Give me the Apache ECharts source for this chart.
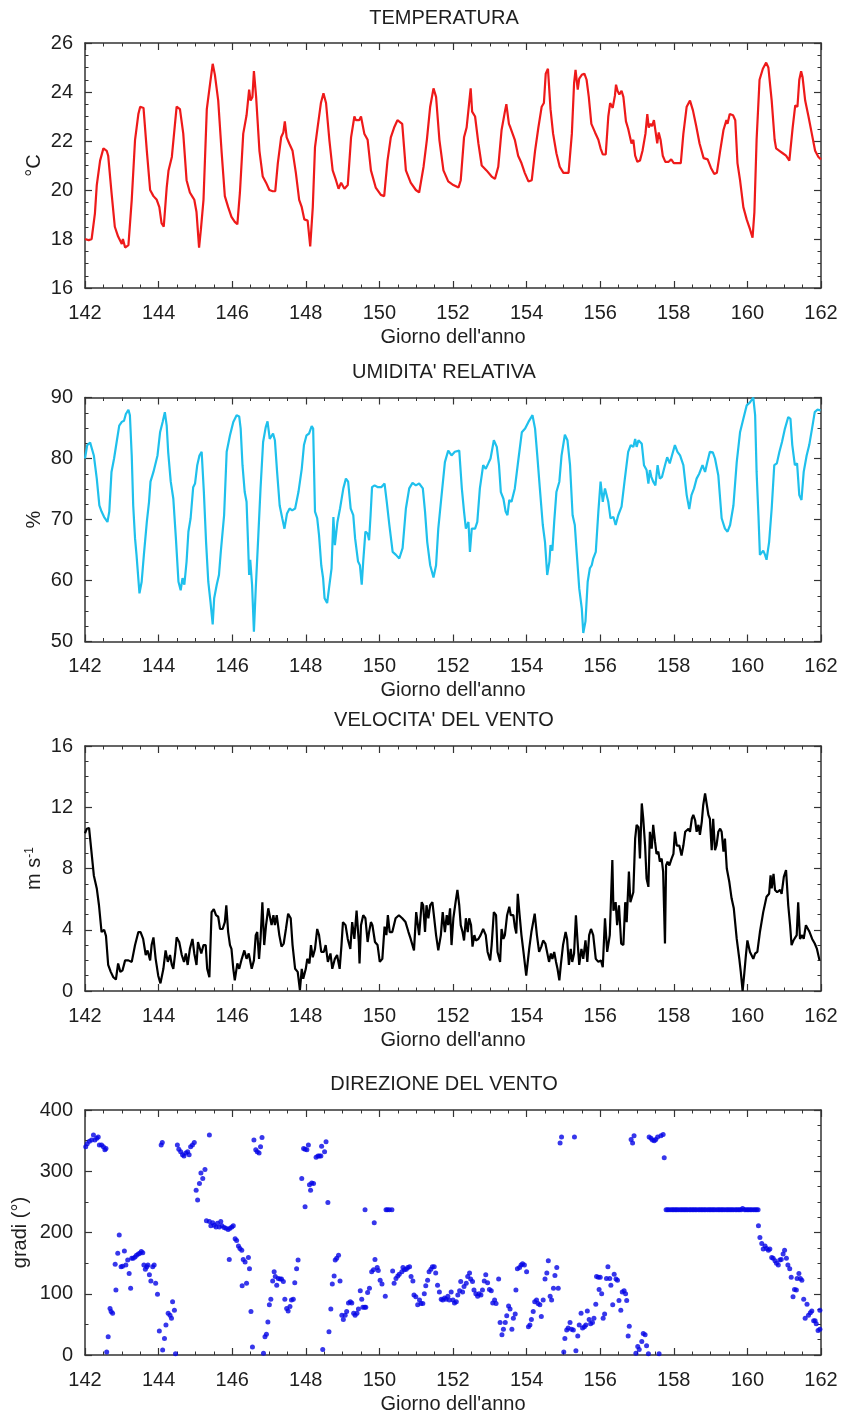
<!DOCTYPE html>
<html>
<head>
<meta charset="utf-8">
<script src="https://cdn.jsdelivr.net/npm/echarts@6/dist/echarts.min.js"></script>
<style>
  html, body { margin: 0; padding: 0; background: #fff; }
  #chart { width: 841px; height: 1414px; }
</style>
</head>
<body>
<div id="chart"></div>
<script>
// Day-of-year axis shared by all four panels
const dayTicks = [142, 162, 2];
const xAxisName = "Giorno dell'anno";

// Panel titles and y-axis names
const titles = ["TEMPERATURA", "UMIDITA' RELATIVA", "VELOCITA' DEL VENTO", "DIREZIONE DEL VENTO"];
const yNames = ["°C", "%", "m s{sup|-1}", "gradi (°)"];
const yRanges = [[16, 26, 2], [50, 90, 10], [0, 16, 4], [0, 400, 100]];

// Air temperature (°C) vs day of year
const temperatura = [
  [142.00,18.0],[142.10,17.95],[142.18,18.0],[142.27,19.05],[142.32,20.2],[142.41,21.2],[142.50,21.7],[142.59,21.6],
  [142.63,21.4],[142.72,19.9],[142.81,18.5],[142.90,18.1],[143.00,17.8],[143.03,18.0],[143.09,17.65],[143.18,17.75],
  [143.27,19.6],[143.36,22.05],[143.45,23.1],[143.50,23.4],[143.59,23.35],[143.68,21.6],[143.77,20.0],[143.86,19.75],
  [143.95,19.6],[144.02,19.3],[144.08,18.65],[144.14,18.5],[144.22,20.1],[144.27,20.8],[144.36,21.35],[144.40,21.4],
  [144.49,23.4],[144.58,23.3],[144.67,22.3],[144.76,20.4],[144.85,19.9],[144.93,19.7],[144.97,19.6],[145.03,19.1],
  [145.10,17.65],[145.15,18.4],[145.22,19.6],[145.31,23.3],[145.40,24.35],[145.47,25.15],[145.53,24.7],[145.62,23.65],
  [145.71,21.6],[145.80,19.75],[145.89,19.3],[145.98,18.9],[146.07,18.7],[146.14,18.6],[146.21,19.9],[146.30,22.3],
  [146.39,23.05],[146.46,24.1],[146.50,23.65],[146.55,23.8],[146.59,24.85],[146.65,23.8],[146.74,21.6],[146.83,20.55],
  [146.92,20.3],[147.01,20.0],[147.10,19.95],[147.17,19.95],[147.24,21.1],[147.33,22.15],[147.39,22.35],[147.43,22.8],
  [147.48,22.15],[147.55,21.9],[147.64,21.6],[147.73,20.7],[147.82,19.6],[147.89,19.3],[147.96,18.8],[148.05,18.75],
  [148.12,17.7],[148.19,19.3],[148.25,21.75],[148.32,22.55],[148.41,23.55],[148.48,23.95],[148.55,23.55],[148.64,22.05],
  [148.73,20.8],[148.82,20.4],[148.89,20.05],[148.96,20.3],[149.05,20.05],[149.14,20.2],[149.23,22.15],[149.32,23.0],
  [149.36,22.85],[149.45,22.85],[149.50,23.0],[149.59,22.3],[149.68,22.05],[149.77,20.8],[149.90,20.1],[150.04,19.8],
  [150.13,19.75],[150.22,21.2],[150.31,22.15],[150.40,22.55],[150.49,22.85],[150.53,22.9],[150.62,22.7],[150.72,20.8],
  [150.85,20.3],[150.99,20.0],[151.08,19.9],[151.20,20.95],[151.29,22.05],[151.38,23.4],[151.47,24.15],[151.54,23.8],
  [151.63,22.05],[151.74,20.8],[151.87,20.35],[152.01,20.2],[152.15,20.1],[152.21,20.4],[152.30,22.15],[152.37,22.55],
  [152.42,22.6],[152.48,24.15],[152.52,23.2],[152.60,23.0],[152.69,21.9],[152.78,21.0],[152.91,20.8],[153.05,20.55],
  [153.14,20.45],[153.23,20.95],[153.32,22.45],[153.41,23.2],[153.45,23.5],[153.52,22.7],[153.56,22.55],[153.61,22.6],
  [153.68,22.05],[153.77,21.4],[153.86,21.1],[153.95,20.7],[154.05,20.35],[154.14,20.4],[154.23,21.6],[154.32,22.55],
  [154.41,23.4],[154.47,23.55],[154.52,24.75],[154.58,24.95],[154.65,23.3],[154.72,22.3],[154.81,21.5],[154.90,20.95],
  [155.00,20.7],[155.14,20.7],[155.23,22.3],[155.29,24.35],[155.33,24.9],[155.39,24.1],[155.43,24.55],[155.50,24.7],
  [155.57,24.75],[155.63,24.5],[155.69,23.8],[155.76,22.7],[155.86,22.35],[155.95,22.05],[156.01,21.7],[156.07,21.45],
  [156.15,21.45],[156.22,23.0],[156.27,23.55],[156.34,23.35],[156.40,23.85],[156.43,24.3],[156.47,24.05],[156.52,23.9],
  [156.58,24.05],[156.63,23.8],[156.70,22.8],[156.76,22.5],[156.85,21.9],[156.90,22.05],[156.95,21.4],[157.01,21.15],
  [157.08,21.2],[157.15,21.6],[157.23,22.3],[157.28,23.1],[157.32,22.55],[157.37,22.7],[157.41,22.6],[157.46,22.85],
  [157.50,22.9],[157.55,21.9],[157.59,22.35],[157.64,22.05],[157.70,21.4],[157.77,21.15],[157.86,21.15],[157.93,21.25],
  [158.00,21.1],[158.12,21.1],[158.19,21.1],[158.26,22.3],[158.35,23.4],[158.44,23.65],[158.52,23.25],[158.61,22.6],
  [158.70,21.9],[158.81,21.3],[158.92,21.25],[159.01,20.9],[159.10,20.65],[159.17,20.7],[159.26,21.6],[159.35,22.45],
  [159.43,22.85],[159.46,22.7],[159.52,23.1],[159.61,23.05],[159.67,22.85],[159.73,21.1],[159.80,20.4],[159.89,19.3],
  [159.98,18.8],[160.07,18.4],[160.14,18.05],[160.19,19.1],[160.25,22.05],[160.33,24.5],[160.42,24.95],[160.51,25.2],
  [160.57,25.0],[160.66,23.65],[160.74,22.05],[160.78,21.7],[160.87,21.6],[160.96,21.5],[161.05,21.4],[161.14,21.2],
  [161.23,22.55],[161.30,23.45],[161.36,23.4],[161.41,24.5],[161.46,24.85],[161.50,24.6],[161.57,23.65],[161.66,23.0],
  [161.75,22.3],[161.84,21.6],[161.93,21.35],[162.00,21.25]
];

// Relative humidity (%) vs day of year
const umidita = [
  [142.00,80.0],[142.06,82.2],[142.14,82.6],[142.19,82.8],[142.24,80.5],[142.32,76.7],[142.39,72.3],[142.45,71.3],
  [142.52,70.4],[142.57,70.2],[142.61,69.6],[142.66,71.3],[142.72,77.8],[142.79,80.0],[142.86,82.7],[142.93,85.4],
  [143.00,86.0],[143.06,86.2],[143.11,87.3],[143.18,88.0],[143.22,87.1],[143.27,80.5],[143.31,72.3],[143.36,66.9],
  [143.40,64.2],[143.48,57.9],[143.54,59.8],[143.60,64.2],[143.68,69.6],[143.74,72.9],[143.78,76.2],[143.86,77.8],
  [143.90,78.1],[143.97,80.5],[144.04,84.3],[144.11,86.0],[144.17,87.6],[144.22,85.4],[144.26,81.1],[144.33,76.2],
  [144.40,73.4],[144.47,66.9],[144.54,59.8],[144.60,58.4],[144.65,60.4],[144.70,59.3],[144.76,63.1],[144.81,68.0],
  [144.87,70.2],[144.94,75.3],[144.99,75.9],[145.05,78.9],[145.11,80.5],[145.17,81.1],[145.23,74.5],[145.29,66.3],
  [145.35,59.8],[145.41,56.5],[145.47,52.8],[145.51,57.1],[145.58,59.3],[145.64,60.9],[145.69,64.7],[145.73,64.4],
  [145.78,70.7],[145.85,81.1],[145.94,83.8],[146.03,86.0],[146.12,87.1],[146.19,86.9],[146.23,84.9],[146.28,78.9],
  [146.34,74.5],[146.39,72.9],[146.43,66.3],[146.46,60.9],[146.49,63.4],[146.54,59.3],[146.59,51.6],[146.64,58.7],
  [146.71,67.4],[146.77,75.1],[146.84,82.7],[146.91,85.1],[146.96,86.1],[147.02,83.2],[147.07,83.4],[147.11,84.1],
  [147.16,83.0],[147.22,77.8],[147.29,72.3],[147.36,70.2],[147.42,68.5],[147.49,71.0],[147.56,71.8],[147.63,71.5],
  [147.71,71.8],[147.80,74.5],[147.89,78.3],[147.95,82.2],[148.02,83.8],[148.09,84.1],[148.16,85.3],[148.20,84.9],
  [148.25,71.3],[148.31,70.2],[148.36,67.4],[148.42,62.5],[148.47,60.4],[148.51,57.1],[148.58,56.3],[148.63,58.7],
  [148.70,62.0],[148.75,70.4],[148.79,65.8],[148.86,69.6],[148.93,71.8],[149.02,75.1],[149.09,76.7],[149.15,76.2],
  [149.22,71.8],[149.29,70.7],[149.34,66.9],[149.42,63.1],[149.47,62.5],[149.52,59.3],[149.56,63.1],[149.62,68.0],
  [149.68,67.7],[149.72,66.6],[149.76,70.7],[149.80,75.3],[149.87,75.6],[149.96,75.3],[150.05,75.3],[150.14,75.9],
  [150.20,72.9],[150.27,69.1],[150.36,64.7],[150.45,64.2],[150.54,63.6],[150.63,65.3],[150.72,71.8],[150.81,75.1],
  [150.90,76.0],[150.99,75.6],[151.08,75.9],[151.18,75.1],[151.24,71.3],[151.30,66.3],[151.38,62.5],[151.47,60.5],
  [151.54,62.5],[151.60,68.5],[151.69,74.0],[151.78,79.4],[151.87,81.3],[151.96,80.5],[152.05,81.1],[152.17,81.3],
  [152.24,75.1],[152.30,71.3],[152.35,68.5],[152.42,69.6],[152.46,64.7],[152.51,68.5],[152.60,68.5],[152.66,69.6],
  [152.73,75.1],[152.82,78.9],[152.89,78.3],[152.96,79.2],[153.02,80.0],[153.11,83.0],[153.19,81.9],[153.25,78.9],
  [153.30,74.5],[153.37,73.4],[153.43,71.3],[153.48,70.7],[153.53,73.2],[153.59,72.9],[153.68,75.1],[153.78,80.0],
  [153.87,84.3],[153.96,84.9],[154.05,86.0],[154.16,87.1],[154.23,84.9],[154.29,80.5],[154.36,75.1],[154.44,69.1],
  [154.50,66.3],[154.56,60.9],[154.62,63.1],[154.65,65.8],[154.70,64.9],[154.75,69.6],[154.81,74.5],[154.89,76.2],
  [154.95,80.5],[155.04,83.9],[155.11,83.0],[155.18,78.9],[155.25,70.7],[155.31,69.1],[155.36,64.7],[155.43,58.7],
  [155.50,55.4],[155.54,51.4],[155.60,53.3],[155.66,59.8],[155.72,62.0],[155.77,62.5],[155.81,63.6],[155.88,64.7],
  [155.95,71.3],[156.01,76.2],[156.07,72.9],[156.13,75.1],[156.18,74.8],[156.22,72.9],[156.28,70.2],[156.36,70.4],
  [156.42,69.1],[156.49,70.7],[156.58,72.1],[156.67,76.7],[156.76,81.1],[156.83,82.2],[156.90,81.9],[156.95,83.2],
  [156.99,81.9],[157.04,83.0],[157.13,82.4],[157.19,78.9],[157.26,78.1],[157.31,75.9],[157.35,78.1],[157.39,77.0],
  [157.44,76.2],[157.50,75.6],[157.56,78.9],[157.62,76.7],[157.68,77.0],[157.76,78.9],[157.82,80.2],[157.89,79.2],
  [157.95,80.5],[158.03,82.2],[158.10,81.1],[158.17,80.5],[158.26,78.9],[158.35,74.0],[158.42,71.7],[158.48,74.0],
  [158.55,75.1],[158.62,76.7],[158.69,77.5],[158.78,78.9],[158.85,77.8],[158.91,79.4],[158.98,81.1],[159.06,81.0],
  [159.12,80.0],[159.21,77.2],[159.30,70.2],[159.39,68.5],[159.46,68.0],[159.53,69.1],[159.62,72.3],[159.71,79.4],
  [159.80,84.3],[159.89,86.5],[159.98,88.7],[160.07,89.2],[160.16,90.0],[160.21,87.1],[160.25,77.8],[160.30,70.7],
  [160.34,64.2],[160.39,64.4],[160.43,64.9],[160.48,64.2],[160.52,63.4],[160.59,66.3],[160.66,71.8],[160.73,78.9],
  [160.80,79.2],[160.87,81.1],[160.94,82.7],[161.02,84.9],[161.11,86.8],[161.17,86.5],[161.22,82.2],[161.29,78.9],
  [161.35,79.2],[161.41,74.0],[161.47,73.2],[161.53,77.8],[161.61,80.5],[161.68,82.2],[161.77,85.4],[161.83,87.6],
  [161.90,88.0],[161.99,87.9]
];

// Wind speed (m/s) vs day of year
const velocitaVento = [
  [142.00,10.3],[142.05,10.6],[142.11,10.65],[142.15,9.7],[142.20,9.7],[142.24,7.55],[142.32,6.7],[142.38,5.6],
  [142.45,3.85],[142.52,4.0],[142.57,3.6],[142.63,1.7],[142.70,1.25],[142.77,0.9],[142.84,0.75],[142.90,1.8],
  [142.96,1.25],[143.02,1.35],[143.09,2.0],[143.18,2.0],[143.27,1.9],[143.36,3.0],[143.45,3.85],[143.51,3.85],
  [143.58,3.4],[143.65,2.35],[143.70,2.65],[143.77,2.0],[143.81,3.0],[143.86,3.5],[143.92,2.1],[143.99,1.0],
  [144.05,0.5],[144.13,1.45],[144.19,2.65],[144.25,1.9],[144.31,2.35],[144.36,1.7],[144.40,1.45],[144.45,2.45],
  [144.49,3.5],[144.56,3.2],[144.63,2.35],[144.69,1.9],[144.74,2.45],[144.79,1.7],[144.85,2.75],[144.92,3.4],
  [144.97,2.45],[145.03,1.7],[145.07,3.2],[145.12,3.1],[145.16,2.45],[145.22,3.0],[145.28,3.0],[145.32,1.45],
  [145.38,0.9],[145.44,5.15],[145.50,5.35],[145.56,4.95],[145.62,4.85],[145.67,4.05],[145.74,4.05],[145.80,4.5],
  [145.84,5.6],[145.89,3.85],[145.94,3.0],[145.98,2.75],[146.03,1.45],[146.07,0.7],[146.14,1.8],[146.19,1.45],
  [146.26,2.1],[146.33,2.65],[146.39,2.1],[146.45,2.45],[146.53,1.45],[146.59,2.0],[146.64,3.65],[146.68,3.85],
  [146.73,2.1],[146.77,3.4],[146.82,5.8],[146.87,3.0],[146.92,4.3],[146.98,5.4],[147.03,5.5],[147.07,4.3],
  [147.12,4.95],[147.16,4.3],[147.21,4.95],[147.28,3.65],[147.34,2.9],[147.40,3.1],[147.46,4.05],[147.52,5.05],
  [147.59,4.75],[147.64,3.0],[147.71,1.45],[147.78,1.25],[147.84,0.05],[147.89,1.45],[147.93,0.8],[148.00,1.45],
  [148.04,2.1],[148.10,1.8],[148.14,3.0],[148.19,2.2],[148.25,2.75],[148.31,4.05],[148.36,3.65],[148.42,2.55],
  [148.49,2.55],[148.54,3.0],[148.60,1.9],[148.67,2.45],[148.72,1.45],[148.79,2.1],[148.85,2.35],[148.92,1.45],
  [148.97,3.0],[149.01,4.5],[149.08,4.3],[149.14,3.4],[149.21,2.75],[149.26,4.5],[149.32,3.4],[149.38,5.25],
  [149.44,3.2],[149.46,1.8],[149.50,4.3],[149.56,4.95],[149.62,4.75],[149.68,3.2],[149.72,3.85],[149.77,4.5],
  [149.81,4.3],[149.88,3.2],[149.95,3.0],[150.01,1.9],[150.08,2.1],[150.14,4.2],[150.19,3.65],[150.23,4.95],
  [150.28,3.85],[150.35,3.85],[150.44,4.75],[150.53,4.95],[150.62,4.75],[150.71,4.5],[150.79,3.85],[150.85,3.4],
  [150.90,3.4],[150.94,2.65],[151.00,5.15],[151.08,3.65],[151.15,5.8],[151.19,5.6],[151.24,3.85],[151.28,5.6],
  [151.33,4.75],[151.38,5.6],[151.44,5.8],[151.48,4.95],[151.54,3.65],[151.60,2.65],[151.67,3.65],[151.72,5.15],
  [151.78,3.85],[151.83,4.95],[151.87,4.3],[151.92,5.4],[151.96,3.0],[152.01,4.75],[152.07,5.8],[152.12,6.6],
  [152.17,5.6],[152.21,4.3],[152.26,3.85],[152.30,3.3],[152.35,4.75],[152.40,3.85],[152.44,4.75],[152.49,4.3],
  [152.53,2.9],[152.58,3.65],[152.62,3.3],[152.69,3.4],[152.75,3.65],[152.82,4.05],[152.89,3.65],[152.94,2.55],
  [153.01,2.0],[153.05,3.0],[153.11,5.15],[153.17,4.95],[153.21,2.55],[153.28,1.9],[153.32,4.05],[153.37,3.4],
  [153.41,3.65],[153.47,4.95],[153.53,5.5],[153.57,4.95],[153.64,4.95],[153.68,4.2],[153.72,3.75],[153.76,6.35],
  [153.81,4.95],[153.86,3.65],[153.92,2.45],[153.99,1.0],[154.07,2.75],[154.13,3.85],[154.22,5.05],[154.28,3.65],
  [154.34,2.55],[154.40,2.9],[154.45,3.3],[154.51,3.1],[154.56,3.1],[154.61,1.9],[154.66,2.45],[154.70,2.1],
  [154.75,2.55],[154.80,1.9],[154.84,1.45],[154.89,0.7],[154.93,1.7],[154.99,3.0],[155.06,3.85],[155.10,3.4],
  [155.15,1.7],[155.20,2.75],[155.24,1.9],[155.29,2.45],[155.34,4.95],[155.38,3.4],[155.43,1.7],[155.49,2.75],
  [155.54,2.1],[155.60,3.3],[155.65,1.9],[155.70,3.65],[155.75,4.05],[155.81,3.65],[155.88,2.1],[155.95,1.9],
  [156.02,2.0],[156.07,1.55],[156.13,4.75],[156.19,2.55],[156.26,3.65],[156.30,6.45],[156.33,8.55],[156.36,5.25],
  [156.42,5.8],[156.46,4.3],[156.51,5.6],[156.57,3.1],[156.63,3.0],[156.68,5.8],[156.72,4.5],[156.78,7.8],
  [156.82,5.8],[156.90,6.45],[156.95,9.95],[156.99,10.85],[157.04,10.7],[157.08,8.65],[157.13,12.25],[157.17,11.25],
  [157.22,9.5],[157.26,7.35],[157.31,6.8],[157.35,10.4],[157.40,9.3],[157.44,10.85],[157.49,9.75],[157.53,8.95],
  [157.58,9.1],[157.62,8.45],[157.67,8.65],[157.71,7.8],[157.76,3.1],[157.79,8.2],[157.83,8.45],[157.88,8.2],
  [157.94,8.65],[157.99,8.95],[158.03,10.4],[158.08,9.5],[158.15,9.5],[158.21,8.85],[158.26,9.5],[158.31,10.4],
  [158.35,10.3],[158.40,10.6],[158.44,10.4],[158.49,11.25],[158.53,11.5],[158.58,11.15],[158.62,10.4],[158.67,10.85],
  [158.71,10.2],[158.76,11.05],[158.80,12.15],[158.85,12.9],[158.89,12.8],[158.94,11.5],[158.98,11.25],[159.03,9.2],
  [159.07,11.25],[159.12,9.2],[159.16,9.5],[159.21,10.4],[159.26,10.6],[159.30,10.4],[159.35,9.1],[159.39,9.95],
  [159.44,8.0],[159.51,7.1],[159.57,6.05],[159.63,5.4],[159.71,3.4],[159.78,2.1],[159.82,1.25],[159.87,0.0],
  [159.91,1.0],[159.96,2.35],[160.00,3.3],[160.07,2.55],[160.12,2.65],[160.16,2.1],[160.21,2.45],[160.27,2.55],
  [160.34,3.85],[160.43,5.15],[160.52,6.15],[160.59,6.35],[160.63,7.55],[160.66,6.7],[160.71,7.65],[160.75,6.6],
  [160.81,6.45],[160.89,6.6],[160.93,6.35],[160.99,7.45],[161.05,7.9],[161.11,5.6],[161.16,4.3],[161.20,3.0],
  [161.25,3.3],[161.29,3.2],[161.34,3.65],[161.38,5.8],[161.43,3.4],[161.49,3.65],[161.53,3.4],[161.59,4.3],
  [161.63,4.2],[161.69,3.85],[161.76,3.4],[161.83,3.1],[161.89,2.75],[161.96,2.0]
];

// Wind direction (degrees) vs day of year
const direzioneVento = [
  [142.02,340],[142.06,345],[142.12,349],[142.18,351],[142.23,359],[142.27,351],[142.32,354],[142.36,356],[142.39,343],
  [142.45,343],[142.50,340],[142.54,335],[142.57,337],[142.59,5],[142.63,30],[142.68,76],[142.71,71],[142.75,68],
  [142.82,148],[142.84,106],[142.89,166],[142.93,196],[142.98,144],[143.02,145],[143.07,170],[143.11,147],[143.16,155],
  [143.20,133],[143.24,109],[143.27,158],[143.31,158],[143.36,160],[143.40,163],[143.45,165],[143.49,166],[143.53,169],
  [143.57,167],[143.60,147],[143.64,140],[143.68,144],[143.71,147],[143.75,131],[143.79,121],[143.84,144],[143.88,147],
  [143.92,117],[143.97,99],[144.02,39],[144.07,343],[144.10,347],[144.11,8],[144.16,27],[144.20,49],[144.26,68],
  [144.31,65],[144.35,60],[144.38,87],[144.43,73],[144.46,2],[144.51,343],[144.55,336],[144.60,332],[144.65,327],
  [144.69,325],[144.74,330],[144.79,332],[144.83,327],[144.87,340],[144.92,343],[144.97,347],[145.02,269],[145.06,253],
  [145.11,280],[145.15,297],[145.20,288],[145.26,303],[145.30,219],[145.38,359],[145.38,218],[145.42,211],[145.47,216],
  [145.51,212],[145.56,209],[145.60,215],[145.65,209],[145.69,218],[145.72,211],[145.78,208],[145.83,207],[145.89,205],
  [145.92,156],[145.94,207],[145.99,209],[146.03,211],[146.08,190],[146.12,187],[146.17,178],[146.21,174],[146.26,171],
  [146.27,113],[146.30,156],[146.35,152],[146.39,117],[146.44,159],[146.47,141],[146.51,71],[146.55,13],[146.59,351],
  [146.64,335],[146.68,332],[146.73,330],[146.77,340],[146.81,355],[146.85,3],[146.89,30],[146.93,34],[146.97,54],
  [147.01,82],[147.05,91],[147.10,121],[147.14,136],[147.17,128],[147.21,114],[147.25,125],[147.30,124],[147.34,124],
  [147.39,120],[147.43,91],[147.48,76],[147.52,72],[147.57,79],[147.61,90],[147.66,91],[147.70,118],[147.75,141],
  [147.79,155],[147.89,288],[147.94,337],[147.98,336],[147.98,242],[148.03,335],[148.07,343],[148.10,278],[148.13,269],
  [148.16,281],[148.21,280],[148.28,323],[148.33,325],[148.37,325],[148.41,325],[148.43,341],[148.46,9],[148.51,332],
  [148.55,348],[148.60,249],[148.63,38],[148.68,75],[148.72,116],[148.77,129],[148.80,155],[148.84,158],[148.89,163],
  [148.93,121],[148.98,65],[149.02,58],[149.07,65],[149.11,71],[149.16,85],[149.21,87],[149.25,85],[149.30,68],
  [149.34,65],[149.39,68],[149.43,75],[149.48,105],[149.52,91],[149.55,78],[149.60,78],[149.61,237],[149.63,78],
  [149.68,102],[149.73,109],[149.79,136],[149.84,139],[149.86,216],[149.88,156],[149.94,143],[149.97,138],[150.02,122],
  [150.07,116],[150.16,96],[150.18,237],[150.22,237],[150.27,237],[150.34,237],[150.36,137],[150.40,117],[150.45,125],
  [150.50,129],[150.54,132],[150.61,136],[150.64,143],[150.68,139],[150.73,140],[150.77,143],[150.82,144],[150.86,128],
  [150.91,121],[150.94,98],[150.99,95],[151.04,82],[151.09,90],[151.13,84],[151.18,84],[151.22,100],[151.26,113],
  [151.31,122],[151.35,136],[151.40,140],[151.44,144],[151.49,144],[151.53,134],[151.58,114],[151.63,103],[151.68,91],
  [151.72,90],[151.77,93],[151.81,91],[151.86,96],[151.90,90],[151.95,103],[152.00,90],[152.04,85],[152.09,87],
  [152.13,98],[152.18,105],[152.21,120],[152.26,103],[152.30,112],[152.36,117],[152.40,128],[152.45,134],[152.48,124],
  [152.53,120],[152.57,106],[152.62,100],[152.67,96],[152.71,100],[152.76,98],[152.80,106],[152.85,121],[152.89,131],
  [152.94,118],[152.99,107],[153.04,105],[153.08,85],[153.13,90],[153.17,84],[153.24,124],[153.28,53],[153.33,33],
  [153.37,42],[153.42,53],[153.46,64],[153.51,80],[153.55,75],[153.60,42],[153.64,60],[153.69,67],[153.71,106],
  [153.75,141],[153.81,143],[153.85,147],[153.89,149],[153.94,147],[154.00,136],[154.05,46],[154.09,49],[154.13,58],
  [154.18,71],[154.22,87],[154.27,90],[154.31,84],[154.36,82],[154.40,63],[154.45,90],[154.50,124],[154.55,134],
  [154.59,154],[154.64,96],[154.68,90],[154.73,109],[154.77,130],[154.82,143],[154.86,109],[154.91,346],[154.95,356],
  [155.01,5],[155.04,27],[155.09,41],[155.13,44],[155.18,53],[155.22,42],[155.27,41],[155.30,356],[155.34,7],
  [155.39,31],[155.43,49],[155.48,68],[155.52,44],[155.57,46],[155.61,49],[155.65,72],[155.70,58],[155.74,51],
  [155.79,53],[155.83,60],[155.88,83],[155.90,128],[155.95,127],[155.97,107],[156.00,127],[156.04,100],[156.08,60],
  [156.12,67],[156.17,125],[156.21,144],[156.26,125],[156.29,114],[156.34,82],[156.38,132],[156.43,124],[156.47,122],
  [156.51,89],[156.56,73],[156.60,103],[156.65,105],[156.69,100],[156.72,89],[156.76,31],[156.79,47],[156.84,352],
  [156.88,346],[156.92,358],[156.97,3],[157.02,14],[157.06,9],[157.13,22],[157.17,35],[157.22,33],[157.26,15],
  [157.31,2],[157.33,356],[157.38,354],[157.42,351],[157.47,350],[157.51,352],[157.56,356],[157.60,2],[157.65,358],
  [157.71,360],[157.74,322],
  [157.79,237],[157.83,237],[157.87,237],[157.92,237],[157.96,237],[158.00,237],[158.04,237],[158.08,237],[158.12,237],
  [158.17,237],[158.21,237],[158.25,237],[158.29,237],[158.33,237],[158.37,237],[158.42,237],[158.46,237],[158.50,237],
  [158.54,237],[158.58,237],[158.62,237],[158.67,237],[158.71,237],[158.75,237],[158.79,237],[158.83,237],[158.87,237],
  [158.92,237],[158.96,237],[159.00,237],[159.04,237],[159.08,237],[159.12,237],[159.17,237],[159.21,237],[159.25,237],
  [159.29,237],[159.33,237],[159.37,237],[159.42,237],[159.46,237],[159.50,237],[159.54,237],[159.58,237],[159.62,237],
  [159.67,237],[159.71,237],[159.75,237],[159.79,237],[159.83,237],[159.87,239],[159.92,237],[159.96,237],[160.00,237],
  [160.04,237],[160.08,237],[160.12,237],[160.17,237],[160.21,237],[160.25,237],[160.29,237],
  [160.30,211],[160.34,192],[160.39,182],[160.43,173],[160.48,178],[160.52,174],[160.57,171],[160.61,173],[160.66,159],
  [160.70,158],[160.75,154],[160.79,150],[160.84,147],[160.88,155],[160.92,156],[160.97,165],[161.01,171],[161.06,158],
  [161.10,147],[161.15,141],[161.19,127],[161.24,95],[161.28,107],[161.33,106],[161.35,125],[161.40,133],[161.44,125],
  [161.48,122],[161.53,91],[161.57,60],[161.62,83],[161.66,65],[161.71,69],[161.75,72],[161.80,56],[161.84,56],
  [161.87,51],[161.92,40],[161.97,73],[161.97,42]
];

// ---- layout / styling ----
const FONT = "'Liberation Sans', Arial, Helvetica, sans-serif";
const TXT = '#1e1e1e';
const FRAME = '#333';
const gridLeft = 85, gridWidth = 736;
const panelLayout = [
  { top: 43,    height: 245, titleY: 18,   nameGap: 41, minorLeft: 4, minorRight: 4 },
  { top: 397.5, height: 244, titleY: 372,  nameGap: 41, minorLeft: 4, minorRight: 4 },
  { top: 746,   height: 245, titleY: 720,  nameGap: 41, minorLeft: 4, minorRight: 4 },
  { top: 1110,  height: 245, titleY: 1084, nameGap: 55, minorLeft: 2, minorRight: 4 }
];

const grids = [], xAxes = [], yAxes = [], graphics = [];

function tickCfg() {
  return { show: true, inside: true, length: 7, lineStyle: { color: FRAME, width: 1.2 } };
}
function minorCfg(split) {
  return { show: true, splitNumber: split, length: 3.5, lineStyle: { color: FRAME, width: 1 } };
}
const lineCfg = { show: true, onZero: false, lineStyle: { color: FRAME, width: 1.5 } };
const labelCfg = { fontSize: 20, color: TXT, fontFamily: FONT };

panelLayout.forEach((p, i) => {
  grids.push({ left: gridLeft, width: gridWidth, top: p.top, height: p.height, containLabel: false, outerBoundsMode: 'none' });

  const xBase = { type: 'value', gridIndex: i, min: dayTicks[0], max: dayTicks[1], interval: dayTicks[2],
    axisLine: lineCfg, axisTick: tickCfg(), minorTick: minorCfg(4), splitLine: { show: false } };
  xAxes.push(Object.assign({}, xBase, {
    position: 'bottom',
    axisLabel: Object.assign({ margin: 15 }, labelCfg),
    name: xAxisName, nameLocation: 'middle', nameGap: 39, nameMoveOverlap: false,
    nameTextStyle: { fontSize: 20, color: TXT, fontFamily: FONT }
  }));
  xAxes.push(Object.assign({}, xBase, { position: 'top', axisLabel: { show: false } }));

  const r = yRanges[i];
  const yBase = { type: 'value', gridIndex: i, min: r[0], max: r[1], interval: r[2],
    axisLine: lineCfg, axisTick: tickCfg(), splitLine: { show: false } };
  yAxes.push(Object.assign({}, yBase, {
    position: 'left', minorTick: minorCfg(p.minorLeft),
    axisLabel: Object.assign({ margin: 12 }, labelCfg),
    name: yNames[i], nameLocation: 'middle', nameGap: p.nameGap, nameMoveOverlap: false,
    nameTextStyle: { fontSize: 20, color: TXT, fontFamily: FONT,
      rich: { sup: { fontSize: 12, color: TXT, fontFamily: FONT, verticalAlign: 'top', lineHeight: 12 } } }
  }));
  yAxes.push(Object.assign({}, yBase, { position: 'right', minorTick: minorCfg(p.minorRight), axisLabel: { show: false } }));

  graphics.push({ type: 'text', x: 444, y: p.titleY,
    style: { text: titles[i], fill: TXT, font: '20px ' + FONT, align: 'center', verticalAlign: 'middle' } });
});

function lineSeries(i, data, color) {
  return { type: 'line', xAxisIndex: 2 * i, yAxisIndex: 2 * i, data: data,
    showSymbol: false, symbol: 'none', smooth: false, animation: false,
    lineStyle: { color: color, width: 2.2 } };
}

const chart = echarts.init(document.getElementById('chart'), null, { renderer: 'canvas' });
chart.setOption({
  backgroundColor: '#fff',
  animation: false,
  grid: grids,
  xAxis: xAxes,
  yAxis: yAxes,
  graphic: graphics,
  series: [
    lineSeries(0, temperatura, '#ee1a1a'),
    lineSeries(1, umidita, '#1fc0ec'),
    lineSeries(2, velocitaVento, '#000000'),
    { type: 'scatter', xAxisIndex: 6, yAxisIndex: 6, data: direzioneVento,
      symbol: 'circle', symbolSize: 5, animation: false,
      itemStyle: { color: '#0505e6' } }
  ]
});
</script>
</body>
</html>
